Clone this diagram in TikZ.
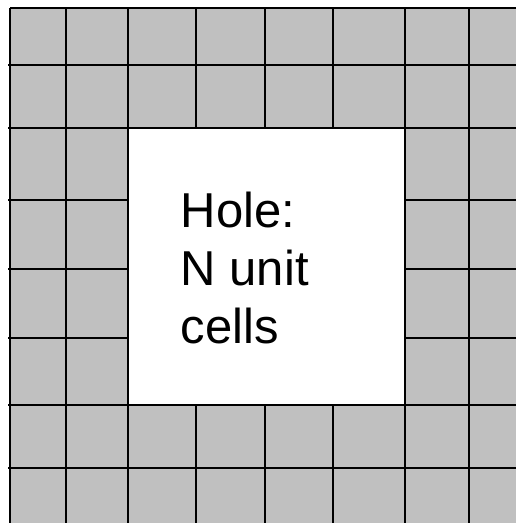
\documentclass[tikz,border=0pt]{standalone}
\usepackage{fontspec}
\setmainfont{Liberation Sans}
\definecolor{cellgrey}{HTML}{C0C0C0}
\tikzset{
  gridline/.style={draw=black, line width=2pt},
  labeltext/.style={font=\fontsize{49}{57.8}\selectfont, align=left, inner sep=0pt, anchor=north west}
}
\begin{document}
\begin{tikzpicture}[x=1pt,y=-1pt]
\useasboundingbox (0,0) rectangle (516,523);
\fill[white] (0,0) rectangle (516,523);
\fill[cellgrey] (10,8) rectangle (516,523);
\fill[white] (128,128) rectangle (405,405);
% full vertical lines
\foreach \x in {10,66,128,405,469} \draw[gridline] (\x,8) -- (\x,523);
% segmented vertical lines
\foreach \x in {196,265,333} {
  \draw[gridline] (\x,8) -- (\x,128);
  \draw[gridline] (\x,405) -- (\x,523);
}
% full horizontal lines
\draw[gridline] (10,8) -- (516,8);
\foreach \y in {65,128,405,468} \draw[gridline] (8,\y) -- (516,\y);
% segmented horizontal lines
\foreach \y in {200,269,338} {
  \draw[gridline] (8,\y) -- (128,\y);
  \draw[gridline] (405,\y) -- (516,\y);
}
\node[labeltext] (hole) at (180.5,192) {Hole:\\N unit\\cells};
\end{tikzpicture}
\end{document}
